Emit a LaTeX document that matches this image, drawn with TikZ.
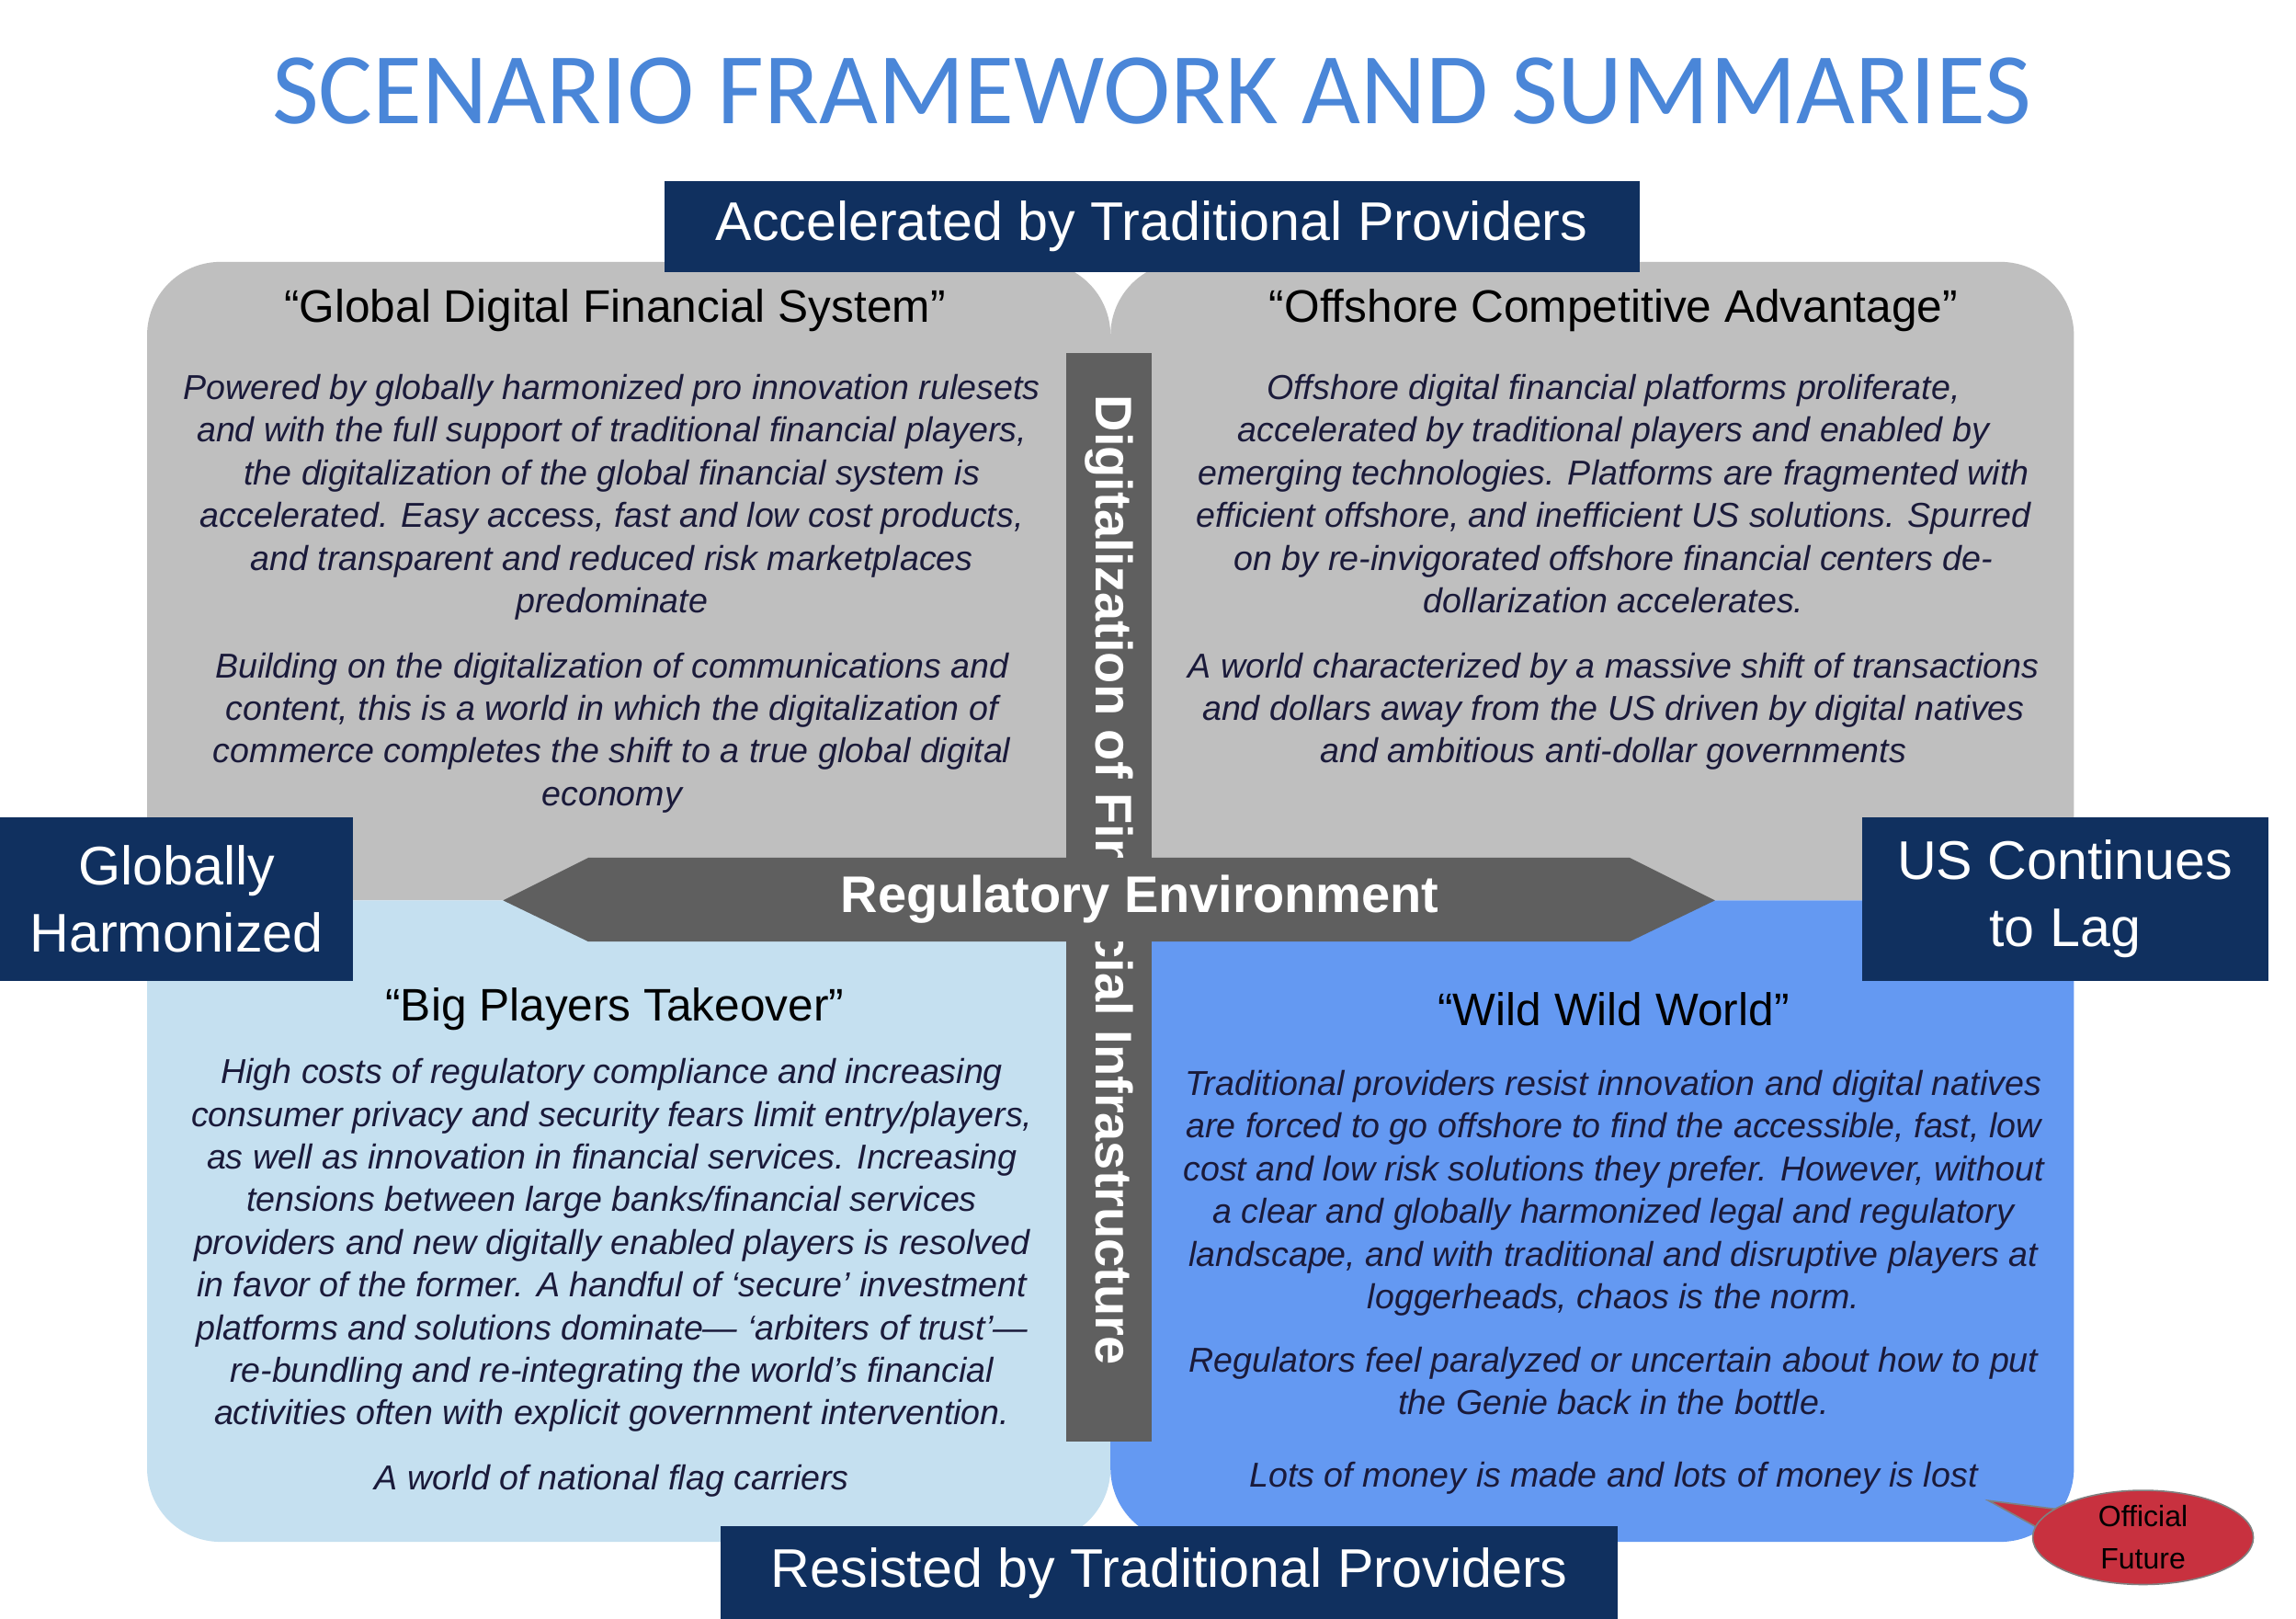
\documentclass[tikz,border=0pt]{standalone}
\usepackage{fontspec}
\setmainfont{Liberation Sans}
\newfontfamily\titlefont{Carlito}
\usetikzlibrary{shapes.geometric}
\definecolor{quadgray}{HTML}{BFBFBF}
\definecolor{quadlight}{HTML}{C5E0F0}
\definecolor{quadblue}{HTML}{6499F2}
\definecolor{navy}{HTML}{10305F}
\definecolor{bargray}{HTML}{5F5F5F}
\definecolor{titleblue}{HTML}{4A86D8}
\definecolor{bodytext}{HTML}{1A1A3A}
\definecolor{calloutred}{HTML}{C8313F}
\tikzset{
  quad/.style={rounded corners=50pt},
  qtitle/.style={font=\fontsize{31}{36}\selectfont, text=black, anchor=center},
  qbody/.style={font=\fontsize{23.5}{29}\selectfont\itshape, text=bodytext, align=center, anchor=north},
  axislabel/.style={fill=navy, text=white, font=\fontsize{37}{46}\selectfont, align=center, inner sep=0pt},
}
\begin{document}
\begin{tikzpicture}[x=1pt,y=-1pt]
\useasboundingbox (0,0) rectangle (1561,1100);
\fill[white] (0,0) rectangle (1561,1100);
\node[text=titleblue, font=\titlefont\fontsize{69}{80}\selectfont] (title) at (783,62) {SCENARIO FRAMEWORK AND SUMMARIES};
% quadrants
\fill[quadgray, quad] (100,178) rectangle (755,612);
\fill[quadgray, quad] (755,178) rectangle (1410,612);
\fill[quadlight, quad] (100,612) rectangle (755,1048);
\fill[quadblue, quad] (755,612) rectangle (1410,1048);
% quadrant texts
\node[qtitle] (t1) at (418,211) {“Global Digital Financial System”};
\node[qbody] (b1) at (416,251) {Powered by globally harmonized pro innovation rulesets\\and with the full support of traditional financial players,\\the digitalization of the global financial system is\\accelerated. Easy access, fast and low cost products,\\and transparent and reduced risk marketplaces\\predominate};
\node[qbody] (b1b) at (416,440) {Building on the digitalization of communications and\\content, this is a world in which the digitalization of\\commerce completes the shift to a true global digital\\economy};
\node[qtitle] (t2) at (1097,211) {“Offshore Competitive Advantage”};
\node[qbody] (b2) at (1097,251) {Offshore digital financial platforms proliferate,\\accelerated by traditional players and enabled by\\emerging technologies. Platforms are fragmented with\\efficient offshore, and inefficient US solutions. Spurred\\on by re-invigorated offshore financial centers de-\\dollarization accelerates.};
\node[qbody] (b2b) at (1097,440) {A world characterized by a massive shift of transactions\\and dollars away from the US driven by digital natives\\and ambitious anti-dollar governments};
\node[qtitle] (t3) at (418,686) {“Big Players Takeover”};
\node[qbody] (b3) at (416,716) {High costs of regulatory compliance and increasing\\consumer privacy and security fears limit entry/players,\\as well as innovation in financial services. Increasing\\tensions between large banks/financial services\\providers and new digitally enabled players is resolved\\in favor of the former. A handful of ‘secure’ investment\\platforms and solutions dominate— ‘arbiters of trust’—\\re-bundling and re-integrating the world’s financial\\activities often with explicit government intervention.};
\node[qbody] (b3b) at (416,992) {A world of national flag carriers};
\node[qtitle] (t4) at (1097,686) {“Wild Wild World”};
\node[qbody] (b4) at (1097,724) {Traditional providers resist innovation and digital natives\\are forced to go offshore to find the accessible, fast, low\\cost and low risk solutions they prefer. However, without\\a clear and globally harmonized legal and regulatory\\landscape, and with traditional and disruptive players at\\loggerheads, chaos is the norm.};
\node[qbody] (b4b) at (1097,912) {Regulators feel paralyzed or uncertain about how to put\\the Genie back in the bottle.};
\node[qbody] (b4c) at (1097,990) {Lots of money is made and lots of money is lost};
% vertical bar
\fill[bargray] (725,240) rectangle (783,980);
\node[rotate=-90, text=white, font=\fontsize{35}{40}\selectfont\bfseries, anchor=west] (vbar) at (754,265) {Digitalization of Financial Infrastructure};
% horizontal arrow
\fill[bargray] (342,612) -- (400,583) -- (1108,583) -- (1166,612) -- (1108,640) -- (400,640) -- cycle;
\node[text=white, font=\fontsize{35}{40}\selectfont\bfseries] (harrow) at (775,611) {Regulatory Environment};
% axis labels
\node[axislabel, minimum width=663pt, minimum height=62pt] (top) at (783,154) {Accelerated by Traditional Providers};
\node[axislabel, minimum width=610pt, minimum height=63pt] (bottom) at (795,1069) {Resisted by Traditional Providers};
\node[axislabel, minimum width=240pt, minimum height=111pt] (left) at (120,611) {Globally\\Harmonized};
\node[axislabel, minimum width=276pt, minimum height=111pt] (right) at (1404,611) {US Continues\\to Lag};
% callout
\coordinate (tip) at (1352,1020);
\fill[calloutred, draw=gray, line width=1pt] (tip) -- (1400,1026) -- (1410,1052) -- cycle;
\node[ellipse, fill=calloutred, draw=gray, line width=1pt, minimum width=150pt, minimum height=64pt, inner sep=0pt, align=center, font=\fontsize{20}{29}\selectfont] (official) at (1457,1045) {Official\\Future};
\end{tikzpicture}
\end{document}
